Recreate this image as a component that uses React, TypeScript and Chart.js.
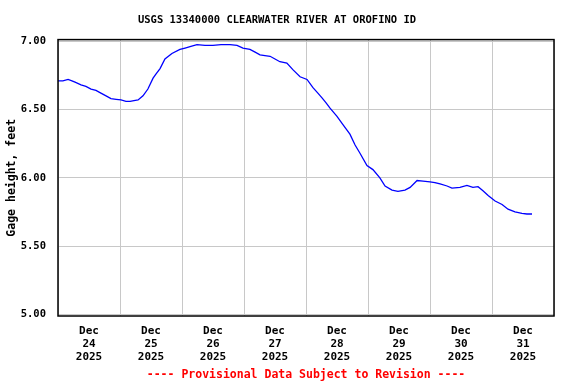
import React, { useEffect, useRef } from "react";
import { Chart, registerables } from "chart.js";

Chart.register(...registerables);

// hours since Dec 24 2025 00:00
const hours = [
  0, 1.9, 3.9, 5.4, 6.6, 8.9, 10.8, 12.8, 14.7, 16.6, 18.6, 20.5, 22.5, 24.4, 26.3, 27.9, 29.4, 31.0,
  32.9, 34.8, 36.8, 37.9, 39.5, 41.4, 44.1, 47.2, 49.2, 51.1, 53.8, 56.9, 60.0, 63.1, 66.6, 69.3,
  71.6, 74.3, 76.3, 78.2, 80.1, 82.1, 84.0, 85.9, 88.6, 91.0, 93.7, 96.4, 98.7, 100.6, 102.2, 103.7,
  105.3, 108.0, 110.3, 113.0, 115.0, 116.9, 119.6, 121.9, 124.6, 126.6, 129.3, 131.6, 134.3, 136.3,
  139.0, 141.3, 144.0, 145.9, 147.9, 150.6, 152.5, 155.6, 158.3, 160.6, 162.6, 164.5, 166.5, 169.2,
  171.9, 174.2, 176.9, 179.6, 181.5, 183.5,
];
const gageHeight = [
  6.71, 6.71, 6.72, 6.71, 6.7, 6.68, 6.67, 6.65, 6.64, 6.62, 6.6, 6.58, 6.575, 6.57, 6.56, 6.56, 6.565, 6.57,
  6.6, 6.65, 6.73, 6.76, 6.8, 6.87, 6.91, 6.94, 6.95, 6.96, 6.975, 6.97, 6.97, 6.975, 6.975, 6.97,
  6.95, 6.94, 6.92, 6.9, 6.895, 6.89, 6.87, 6.85, 6.84, 6.79, 6.74, 6.72, 6.66, 6.62, 6.585, 6.55,
  6.51, 6.45, 6.39, 6.32, 6.24, 6.18, 6.09, 6.06, 6.0, 5.94, 5.91, 5.9, 5.91, 5.93,
  5.98, 5.975, 5.97, 5.965, 5.955, 5.94, 5.925, 5.93, 5.945, 5.93, 5.935, 5.905, 5.87, 5.83,
  5.805, 5.77, 5.75, 5.74, 5.735, 5.735,
];
const dayLabels = ["24", "25", "26", "27", "28", "29", "30", "31"];
const yTicks = [5.0, 5.5, 6.0, 6.5, 7.0];
const titleText = "USGS 13340000 CLEARWATER RIVER AT OROFINO ID";
const yTitle = "Gage height, feet";
const footText = "---- Provisional Data Subject to Revision ----";

const FONT = "'DejaVu Sans Mono', 'Liberation Mono', monospace";

export default function App() {
  const ref = useRef<HTMLCanvasElement | null>(null);
  useEffect(() => {
    if (!ref.current) return;
    const extras = {
      id: "extras",
      afterDraw(chart: any) {
        const { ctx, chartArea: a } = chart;
        ctx.save();
        ctx.strokeStyle = "#000";
        ctx.lineWidth = 1.5;
        ctx.strokeRect(a.left, a.top, a.right - a.left, a.bottom - a.top);
        ctx.fillStyle = "#ff0000";
        ctx.font = `bold 11.5px ${FONT}`;
        ctx.textAlign = "center";
        ctx.textBaseline = "middle";
        ctx.fillText(footText, (a.left + a.right) / 2, 375.5);
        ctx.restore();
      },
    };
    const chart = new Chart(ref.current, {
      type: "line",
      data: {
        datasets: [
          {
            data: hours.map((h, i) => ({ x: h, y: gageHeight[i] })),
            borderColor: "#0000ff",
            borderWidth: 1.3,
            pointRadius: 0,
            tension: 0,
            fill: false,
          },
        ],
      },
      plugins: [extras],
      options: {
        responsive: false,
        animation: false,
        layout: { padding: { left: 0, right: 22, top: 0, bottom: 17.8 } },
        plugins: {
          legend: { display: false },
          tooltip: { enabled: false },
          title: {
            display: true,
            text: titleText,
            color: "#000",
            font: { family: FONT, size: 10.5, weight: "bold", lineHeight: 1.2 },
            padding: { top: 14, bottom: 13 },
          },
        },
        scales: {
          x: {
            type: "linear",
            min: 0,
            max: 192,
            afterBuildTicks: (s: any) => {
              const t = [];
              for (let v = 0; v <= 192; v += 12) t.push({ value: v });
              s.ticks = t;
            },
            afterFit: (s: any) => {
              s.height = 50.2;
            },
            grid: {
              color: (c: any) => (c.tick && c.tick.value % 24 === 0 ? "#c8c8c8" : "rgba(0,0,0,0)"),
              drawTicks: false,
              lineWidth: 1,
            },
            border: { display: false },
            ticks: {
              autoSkip: false,
              maxRotation: 0,
              padding: 8.5,
              color: "#000",
              font: { family: FONT, size: 11, weight: "bold", lineHeight: "12.9px" },
              callback: (v: any) => {
                const n = Number(v);
                if (n % 24 !== 12) return "";
                const idx = (n - 12) / 24;
                return ["Dec", dayLabels[idx], "2025"];
              },
            },
          },
          y: {
            type: "linear",
            min: 4.988,
            max: 7.012,
            afterBuildTicks: (s: any) => {
              s.ticks = yTicks.map((v) => ({ value: v }));
            },
            afterFit: (s: any) => {
              s.width = 58;
            },
            grid: { color: "#c8c8c8", drawTicks: false, lineWidth: 1 },
            border: { display: false },
            ticks: {
              padding: 12,
              color: "#000",
              font: { family: FONT, size: 10.5, weight: "bold" },
              callback: (v: any) => Number(v).toFixed(2),
            },
            title: {
              display: true,
              text: yTitle,
              color: "#000",
              font: { family: FONT, size: 11.5, weight: "bold", lineHeight: 1.2 },
              padding: { top: 5.5, bottom: 0 },
            },
          },
        },
      },
    });
    return () => chart.destroy();
  }, []);
  return (
    <div style={{ position: "absolute", left: 0, top: 0, width: 576, height: 384 }}>
      <canvas ref={ref} width={576} height={384} />
    </div>
  );
}
